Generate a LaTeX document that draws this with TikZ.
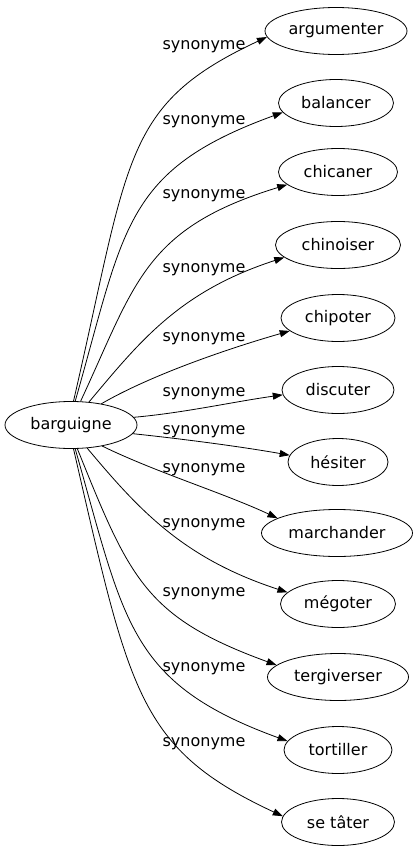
\documentclass[tikz,border=0pt]{standalone}
\usepackage{fontspec}
\setmainfont{DejaVu Sans}
\usetikzlibrary{arrows.meta}
\usetikzlibrary{shapes.geometric}

\begin{document}
\begin{tikzpicture}[x=1pt, y=1pt,
    word/.style={draw=black, ellipse, line width=0.8pt, inner sep=1pt, minimum height=47pt, font=\fontsize{16}{19}\selectfont},
    rel/.style={inner sep=0pt, font=\fontsize{16}{19}\selectfont},
    syn/.style={-{Triangle[length=10pt, width=7pt]}, line width=0.8pt}]
    \useasboundingbox (0,0) rectangle (419,-851);
    \node[word, minimum width=132pt] (barguigne) at (71,-425) {barguigne};
    \node[word, minimum width=142pt] (argumenter) at (336,-31) {argumenter};
    \node[word, minimum width=115pt] (balancer) at (336,-103) {balancer};
    \node[word, minimum width=119pt] (chicaner) at (338,-172) {chicaner};
    \node[word, minimum width=125pt] (chinoiser) at (338,-245) {chinoiser};
    \node[word, minimum width=114pt] (chipoter) at (338,-318) {chipoter};
    \node[word, minimum width=112pt] (discuter) at (338,-390) {discuter};
    \node[word, minimum width=100pt] (hesiter) at (338,-462) {hésiter};
    \node[word, minimum width=151pt] (marchander) at (337,-533) {marchander};
    \node[word, minimum width=115pt] (megoter) at (338,-604) {mégoter};
    \node[word, minimum width=141pt] (tergiverser) at (338,-677) {tergiverser};
    \node[word, minimum width=108pt] (tortiller) at (338,-750) {tortiller};
    \node[word, minimum width=113pt] (setater) at (338,-822) {se tâter};
    % labels
    \node[rel] (l1) at (204,-47) {synonyme};
    \node[rel] (l2) at (204,-122) {synonyme};
    \node[rel] (l3) at (204,-196) {synonyme};
    \node[rel] (l4) at (204,-270) {synonyme};
    \node[rel] (l5) at (204,-339) {synonyme};
    \node[rel] (l6) at (204,-394) {synonyme};
    \node[rel] (l7) at (204,-432) {synonyme};
    \node[rel] (l8) at (204,-470) {synonyme};
    \node[rel] (l9) at (204,-525) {synonyme};
    \node[rel] (l10) at (204,-594) {synonyme};
    \node[rel] (l11) at (204,-669) {synonyme};
    \node[rel] (l12) at (204,-744) {synonyme};
    % edges
    \draw [syn] (barguigne.84) .. controls +(77:250) and +(205:160) .. (argumenter.185);
    \draw [syn] (barguigne.80) .. controls +(74:180) and +(200:170) .. (balancer.190);
    \draw [syn] (barguigne.68) .. controls +(65:130) and +(197:150) .. (chicaner.194);
    \draw [syn] (barguigne.52) .. controls +(50:80) and +(198:110) .. (chinoiser.193);
    \draw [syn] (barguigne.35) .. controls +(30:60) and +(196:60) .. (chipoter.195);
    \draw [syn] (barguigne.7) .. controls +(5:50) and +(188:50) .. (discuter.185);
    \draw [syn] (barguigne.-8) .. controls +(-6:50) and +(170:50) .. (hesiter.172);
    \draw [syn] (barguigne.-34) .. controls +(-26:60) and +(155:60) .. (marchander.166);
    \draw [syn] (barguigne.-55) .. controls +(-50:80) and +(162:110) .. (megoter.167);
    \draw [syn] (barguigne.-75) .. controls +(-68:140) and +(160:140) .. (tergiverser.169);
    \draw [syn] (barguigne.-80) .. controls +(-74:180) and +(160:170) .. (tortiller.170);
    \draw [syn] (barguigne.-84) .. controls +(-77:250) and +(155:160) .. (setater.174);
\end{tikzpicture}
\end{document}
